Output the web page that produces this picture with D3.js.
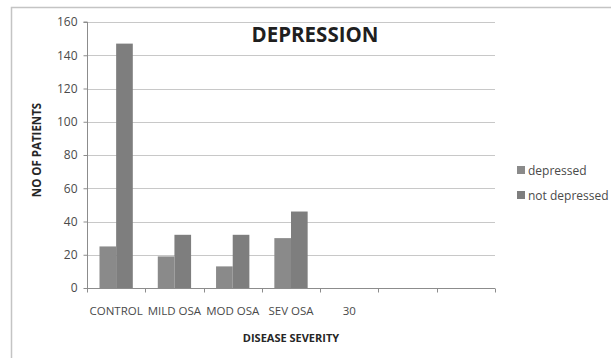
<!DOCTYPE html>
<html>
<head>
<meta charset="utf-8">
<script src="https://cdn.jsdelivr.net/npm/d3@7"></script>
<style>
  html, body { margin: 0; padding: 0; background: #fff; }
  svg { display: block; }
  text { font-family: "Open Sans", Lato, sans-serif; }
</style>
</head>
<body>
<svg id="chart" width="611" height="358"></svg>
<script>
// Patients by disease severity, split by depression status
const categories = ["CONTROL", "MILD OSA", "MOD OSA", "SEV OSA", "30", "", " "];
const depressed = [25, 19, 13, 30, null, null, null];
const notDepressed = [147, 32, 32, 46, null, null, null];
const seriesNames = ["depressed", "not depressed"];
const yTicks = [0, 20, 40, 60, 80, 100, 120, 140, 160];

const colors = ["#8a8a8a", "#7e7e7e"];

const svg = d3.select("#chart");
const plotLeft = 87, plotRight = 495;
const plotTop = 22, plotBottom = 288;

// outer frame
svg.append("rect")
  .attr("x", 11.5).attr("y", 7.5)
  .attr("width", 620).attr("height", 360)
  .attr("fill", "none").attr("stroke", "#c4c4c4").attr("stroke-width", 1.5);

const x = d3.scaleBand().domain(categories).range([plotLeft, plotRight]).paddingInner(0).paddingOuter(0);
const y = d3.scaleLinear().domain([0, 160]).range([plotBottom, plotTop]);

// gridlines
svg.append("g")
  .selectAll("line")
  .data(yTicks.filter(d => d > 0))
  .join("line")
  .attr("x1", plotLeft).attr("x2", plotRight)
  .attr("y1", d => Math.round(y(d)) + 0.5).attr("y2", d => Math.round(y(d)) + 0.5)
  .attr("stroke", "#c8c8c8").attr("stroke-width", 1);

// bars: two per category, gap width 150%
const barW = x.bandwidth() / 3.5;
const data = categories.map((c, i) => ({ c, vals: [depressed[i], notDepressed[i]] }));
const groups = svg.append("g").selectAll("g")
  .data(data).join("g")
  .attr("transform", d => `translate(${x(d.c) + x.bandwidth() * 0.75 / 3.5},0)`);
groups.selectAll("rect")
  .data(d => d.vals.map((v, j) => ({ v, j })).filter(e => e.v != null))
  .join("rect")
  .attr("x", e => e.j * barW)
  .attr("width", barW)
  .attr("y", e => y(e.v))
  .attr("height", e => y(0) - y(e.v))
  .attr("fill", e => colors[e.j]);

// y axis
const yAxis = d3.axisLeft(y).tickValues(yTicks).tickSize(4).tickPadding(6);
const gy = svg.append("g").attr("transform", `translate(${plotLeft + 0.5},0)`).call(yAxis);
gy.select(".domain").attr("stroke", "#8c8c8c").attr("d", `M-4,${plotTop}H0V${plotBottom}`);
gy.selectAll(".tick line").attr("stroke", "#8c8c8c");
gy.selectAll(".tick text").attr("fill", "#4a4a4a").style("font-size", "12px")
  .style("font-family", "'Open Sans', sans-serif");

// x axis with ticks between categories
const gx = svg.append("g").attr("transform", `translate(0,${plotBottom + 0.5})`);
gx.append("line").attr("x1", plotLeft).attr("x2", plotRight).attr("stroke", "#8c8c8c");
const bounds = categories.map(c => x(c)).concat([plotRight]);
gx.selectAll("line.tk").data(bounds).join("line").attr("class", "tk")
  .attr("x1", d => Math.round(d) + 0.5).attr("x2", d => Math.round(d) + 0.5)
  .attr("y1", 0).attr("y2", 4).attr("stroke", "#8c8c8c");
gx.selectAll("text").data(categories).join("text")
  .attr("x", d => x(d) + x.bandwidth() / 2)
  .attr("y", 26.5)
  .attr("text-anchor", "middle")
  .attr("fill", "#4a4a4a")
  .style("font-size", "11.5px")
  .text(d => d.trim());

// title
svg.append("text").attr("x", 315).attr("y", 41.5)
  .attr("text-anchor", "middle").attr("fill", "#1f1f1f")
  .style("font-size", "20.5px").style("font-weight", "bold")
  .text("DEPRESSION");

// axis titles
svg.append("text")
  .attr("transform", `translate(41,150) rotate(-90)`)
  .attr("text-anchor", "middle").attr("fill", "#262626")
  .style("font-size", "11.5px").style("font-weight", "bold")
  .text("NO OF PATIENTS");
svg.append("text").attr("x", 291).attr("y", 342)
  .attr("text-anchor", "middle").attr("fill", "#262626")
  .style("font-size", "11px").style("font-weight", "bold")
  .text("DISEASE SEVERITY");

// legend
const leg = svg.append("g").selectAll("g").data(seriesNames).join("g")
  .attr("transform", (d, i) => `translate(517,${166 + i * 25})`);
leg.append("rect").attr("width", 8).attr("height", 8).attr("fill", (d, i) => colors[i]);
leg.append("text").attr("x", 11).attr("y", 8.5).attr("fill", "#4a4a4a")
  .style("font-size", "12px").text(d => d);
</script>
</body>
</html>
